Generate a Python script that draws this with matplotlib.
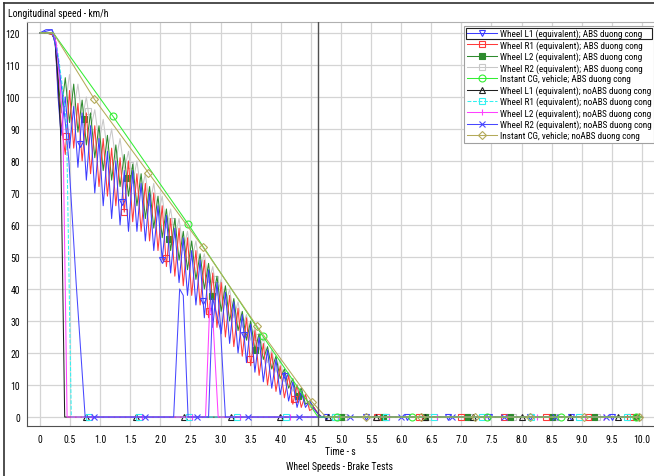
import numpy as np
import matplotlib
matplotlib.use("Agg")
import matplotlib.pyplot as plt
from matplotlib.lines import Line2D
from matplotlib.patches import Rectangle

plt.rcParams['font.family'] = ['Arial Narrow', 'Liberation Sans Narrow', 'Roboto Condensed',
                               'PT Sans Narrow', 'Liberation Sans', 'DejaVu Sans']
plt.rcParams['font.size'] = 7

# ---- data (time in s, speed in km/h) ----
t_start = [0.0, 0.1, 0.2, 0.25, 0.3]
t_abs = [0.35, 0.42, 0.49, 0.56, 0.63, 0.70, 0.77, 0.84, 0.91, 0.98,
         1.05, 1.12, 1.19, 1.26, 1.33, 1.40, 1.47, 1.54, 1.61, 1.68,
         1.75, 1.82, 1.89, 1.96, 2.03, 2.10, 2.17, 2.24, 2.31, 2.38,
         2.45, 2.52, 2.59, 2.66, 2.73, 2.80, 2.87, 2.94, 3.01, 3.08,
         3.15, 3.22, 3.29, 3.36, 3.43, 3.50, 3.57, 3.64, 3.71, 3.78,
         3.85, 3.92, 3.99, 4.06, 4.13, 4.20, 4.27, 4.34, 4.41, 4.48,
         4.55, 4.62]
t_end = [4.68, 10.0]

l1_abs_start = [120, 121, 121, 119, 100]
l1_abs = [88, 100, 84, 97, 78, 95, 74, 91, 70, 87,
          66, 83, 62, 80, 60, 77, 58, 77, 58, 73,
          55, 70, 52, 66, 49, 63, 45, 59, 42, 56,
          38, 52, 35, 49, 31, 46, 28, 42, 26, 39,
          23, 36, 20, 32, 17, 29, 14, 25, 11, 21,
          9, 18, 7, 14, 5, 11, 3, 8, 3, 5,
          2.5, 1]

r1_abs_start = [120, 120, 119.5, 118, 102]
r1_abs = [92, 82, 102, 84, 98, 80, 95, 76, 91, 72,
          87, 69, 84, 66, 81, 64, 80, 61, 76, 58,
          73, 55, 70, 52, 66, 47, 62, 44, 59, 41,
          56, 38, 52, 35, 49, 31, 45, 28, 42, 25,
          38, 22, 34, 19, 31, 16, 27, 13, 23, 10,
          20, 8, 16, 6, 13, 4, 10, 3, 7, 2,
          3, 1]

l2_abs_start = [120, 120, 119.5, 118, 106]
l2_abs = [95, 106, 92, 104, 89, 99, 85, 95, 81, 91,
          77, 88, 74, 85, 72, 82, 69, 79, 66, 76,
          62, 72, 59, 69, 56, 65, 52, 62, 49, 58,
          46, 55, 43, 51, 40, 48, 36, 44, 33, 41,
          30, 37, 27, 33, 24, 30, 21, 26, 18, 22,
          15, 19, 12, 15, 9, 12, 6, 9, 4, 5,
          3, 1]

r2_abs_start = [120, 120, 119.5, 118, 108]
r2_abs = [100, 97, 107, 96, 104, 93, 100, 90, 96, 86,
          93, 83, 90, 80, 87, 77, 83, 73, 80, 70,
          76, 66, 73, 63, 69, 59, 65, 56, 62, 52,
          58, 49, 55, 46, 51, 42, 47, 38, 43, 35,
          40, 31, 36, 28, 32, 24, 28, 21, 25, 17,
          21, 14, 18, 11, 14, 8, 10, 6, 7, 3,
          3, 1]

cg_abs_t = [0, 0.22, 1.21, 2.46, 3.70, 4.62, 10.0]
cg_abs_v = [120, 120, 94, 60.3, 25.3, 0, 0]

cg_noabs_t = [0, 0.22, 0.9, 2.71, 3.6, 4.52, 4.75, 10.0]
cg_noabs_v = [120, 120, 99.4, 53, 28.5, 4.7, 0, 0]

l1_noabs_t = [0, 0.2, 0.25, 0.3, 0.34, 0.41, 10.0]
l1_noabs_v = [120, 120, 117, 105, 90, 0, 0]

r1_noabs_t = [0, 0.2, 0.28, 0.36, 0.44, 0.52, 10.0]
r1_noabs_v = [120, 120, 116, 105, 92, 0, 0]

l2_noabs_t = [0, 0.2, 0.27, 0.33, 0.38, 0.45, 2.75, 2.82, 2.88, 2.96, 10.0]
l2_noabs_v = [120, 120, 117, 104, 92, 0, 0, 35, 28, 0, 0]

r2_noabs_t = [0, 0.2, 0.3, 0.4, 0.48, 0.6, 0.75, 2.22, 2.32, 2.38, 2.46,
              2.8, 2.87, 3.0, 3.08, 10.0]
r2_noabs_v = [120, 121, 112, 96, 80, 42, 0, 0, 40, 38, 0,
              0, 37, 27, 0, 0]

# marker positions (time) along each curve
mk_l1_abs = [0.66, 1.36, 2.03, 2.71, 3.39, 4.07, 4.75, 5.42, 6.1, 6.78, 7.46, 8.14, 8.82, 9.5]
mk_r1_abs = [0.44, 1.4, 2.09, 2.81, 3.49, 4.22, 4.9, 5.6, 6.3, 7.0, 7.7, 8.4, 9.1, 9.8]
mk_l2_abs = [0.73, 1.44, 2.15, 2.86, 3.57, 4.28, 5.0, 5.7, 6.4, 7.1, 7.8, 8.5, 9.2, 9.9]
mk_r2_abs = [0.8, 1.5, 2.2, 2.9, 3.6, 4.3, 5.05, 5.75, 6.45, 7.15, 7.85, 8.55, 9.25, 9.95]
mk_cg_abs = [1.21, 2.46, 3.70, 4.94, 6.18, 7.42, 8.66, 9.9]
mk_l1_noabs = [0.77, 1.6, 2.4, 3.17, 3.99, 4.78, 5.58, 6.4, 7.2, 8.0, 8.8, 9.6]
mk_r1_noabs = [0.82, 1.65, 2.47, 3.27, 4.08, 4.9, 5.75, 6.55, 7.35, 8.15, 8.95, 9.75]
mk_l2_noabs = [0.86, 1.7, 2.52, 3.33, 4.15, 4.97, 5.8, 6.6, 7.4, 8.25, 9.05, 9.37]
mk_r2_noabs = [0.9, 1.75, 2.6, 3.45, 4.3, 5.15, 6.0, 6.85, 7.7, 8.55, 9.4]
mk_cg_noabs = [0.9, 1.8, 2.71, 3.6, 4.52, 5.42, 6.33, 7.23, 8.14, 9.04, 9.95]

labels = ["Wheel L1 (equivalent); ABS duong cong",
          "Wheel R1 (equivalent); ABS duong cong",
          "Wheel L2 (equivalent); ABS duong cong",
          "Wheel R2 (equivalent); ABS duong cong",
          "Instant CG, vehicle; ABS duong cong",
          "Wheel L1 (equivalent); noABS duong cong",
          "Wheel R1 (equivalent); noABS duong cong",
          "Wheel L2 (equivalent); noABS duong cong",
          "Wheel R2 (equivalent); noABS duong cong",
          "Instant CG, vehicle; noABS duong cong"]

abs_t = t_start + t_abs + t_end
series = [
    (abs_t, l1_abs_start + l1_abs + [0, 0], mk_l1_abs, '#3c3cff', 'v', 'none', '-', 4),
    (abs_t, r1_abs_start + r1_abs + [0, 0], mk_r1_abs, '#ff3a3a', 's', 'none', '-', 3),
    (abs_t, l2_abs_start + l2_abs + [0, 0], mk_l2_abs, '#2e8b2e', 's', '#2e8b2e', '-', 2),
    (abs_t, r2_abs_start + r2_abs + [0, 0], mk_r2_abs, '#c8c8c8', 's', 'none', '-', 1),
    (cg_abs_t, cg_abs_v, mk_cg_abs, '#33ee33', 'o', 'none', '-', 6),
    (l1_noabs_t, l1_noabs_v, mk_l1_noabs, '#202020', '^', 'none', '-', 5),
    (r1_noabs_t, r1_noabs_v, mk_r1_noabs, '#33f0f0', 's', 'none', '--', 5),
    (l2_noabs_t, l2_noabs_v, mk_l2_noabs, '#ff40ff', '|', 'none', '-', 5),
    (r2_noabs_t, r2_noabs_v, mk_r2_noabs, '#4848ff', 'x', 'none', '-', 5),
    (cg_noabs_t, cg_noabs_v, mk_cg_noabs, '#b4aa5a', 'D', 'none', '-', 6),
]

fig = plt.figure(figsize=(6.54, 4.77), dpi=100)
ax = fig.add_axes([27 / 654, 50 / 477, 627 / 654, 404 / 477])

handles = []
for (t, v, mk, col, m, mfc, ls, z), lab in zip(series, labels):
    ms = 5
    if m == 's':
        ms = 4.5
    if m == 'D':
        ms = 4
    ax.plot(t, v, color=col, lw=0.75, ls=ls, zorder=z)
    ax.plot(mk, np.interp(mk, t, v), ls='none', marker=m, color=col,
            mfc=mfc, mec=col, ms=ms, mew=0.8, zorder=z)
    handles.append(Line2D([], [], color=col, lw=0.75, ls=ls, marker=m,
                          mfc=mfc, mec=col, ms=ms, mew=0.8))

# cursor line
ax.axvline(4.62, color='#505050', lw=1, zorder=7)

ax.set_xlim(-0.216, 10.2)
ax.set_ylim(-2.8, 123.4)
xt = np.arange(0, 10.01, 0.5)
ax.set_xticks(xt)
ax.set_xticklabels(['0'] + ['%.1f' % x for x in xt[1:]])
ax.set_yticks(np.arange(0, 121, 10))
ax.tick_params(length=0, labelsize=7)
ax.tick_params(axis='x', pad=6)
ax.tick_params(axis='y', pad=5)
ax.grid(True, color='#d4d4d4', lw=0.9)
ax.set_axisbelow(True)
for s in ['left', 'bottom']:
    ax.spines[s].set_color('#505050')
ax.spines['top'].set_color('#b0b0b0')
ax.spines['right'].set_visible(False)

leg = ax.legend(handles, labels, loc='upper right', bbox_to_anchor=(1.0, 0.99),
                fontsize=6.6, handlelength=3.3, labelspacing=0.2, borderpad=0.3,
                handletextpad=0.3, fancybox=False, framealpha=1,
                edgecolor='#a0a0a0', borderaxespad=0.0)
leg.get_frame().set_linewidth(0.8)
leg.set_zorder(10)

fig.text(8 / 654, 1 - 14 / 477, "Longitudinal speed - km/h", fontsize=7, va='center')
fig.text(340 / 654, 1 - 452 / 477, "Time - s", fontsize=7, ha='center', va='center')
fig.text(340 / 654, 1 - 467 / 477, "Wheel Speeds - Brake Tests", fontsize=7,
         ha='center', va='center')

# window frame
fig.add_artist(Line2D([4 / 654, 4 / 654], [0, 1 - 4 / 477], transform=fig.transFigure,
                      color='#303030', lw=1.2))
fig.add_artist(Line2D([4 / 654, 1], [1 - 4 / 477, 1 - 4 / 477], transform=fig.transFigure,
                      color='#303030', lw=1.2))

# selection box around the first legend entry
fig.canvas.draw()
rend = fig.canvas.get_renderer()
tb = leg.get_texts()[0].get_window_extent(rend)
fb = leg.get_frame().get_window_extent(rend)
inv = fig.transFigure.inverted()
(x0, y0), (x1, y1) = inv.transform([(fb.x0 + 2, tb.y0 - 1), (fb.x1 - 2, tb.y1 + 1)])
fig.add_artist(Rectangle((x0, y0), x1 - x0, y1 - y0, transform=fig.transFigure,
                         fill=False, ec='#202020', lw=0.8, zorder=20))

fig.savefig('out.png', dpi=100)
